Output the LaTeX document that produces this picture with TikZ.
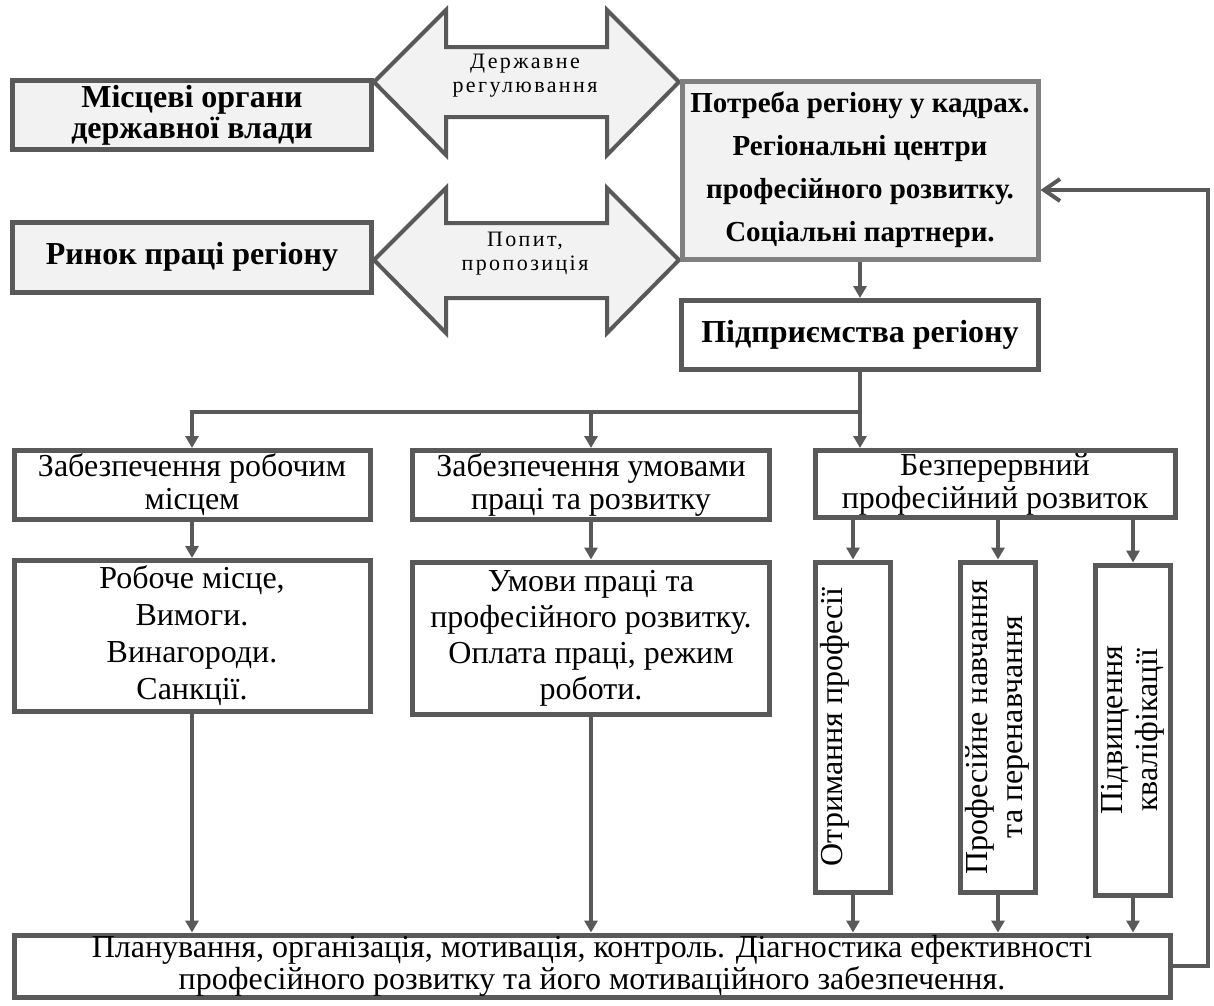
\documentclass[tikz,border=0pt]{standalone}
\usepackage{fontspec}
\setmainfont{Liberation Serif}
\usetikzlibrary{positioning, calc, arrows.meta}

\definecolor{linegray}{HTML}{595959}
\definecolor{softgray}{HTML}{808080}
\definecolor{boxfill}{HTML}{F2F2F2}

\begin{document}
\begin{tikzpicture}[x=1pt, y=-1pt,
    box/.style={draw=linegray, line width=5pt, fill=white, align=center, inner sep=0pt,
        font=\fontsize{32}{33}\selectfont},
    greybox/.style={box, fill=boxfill, font=\bfseries\fontsize{32}{31}\selectfont},
    vbox/.style={box, minimum width=75pt, minimum height=330pt, font=\fontsize{32}{35}\selectfont},
    conn/.style={draw=linegray, line width=4pt, -{Triangle[length=12pt,width=13pt]}},
    wire/.style={draw=linegray, line width=4pt},
    backarr/.style={draw=linegray, line width=4pt, -{Straight Barb[length=16pt,width=22pt]}},
    dbl/.style={draw=linegray, line width=4pt, fill=boxfill, line join=miter},
    arrtext/.style={align=center, inner sep=0pt,
        font=\fontsize{22}{24}\selectfont\addfontfeature{LetterSpace=11}}]
    \useasboundingbox (0,0) rectangle (1214,1005);

    % double arrows
    \draw[dbl] (374,82) -- (446,10) -- (446,47) -- (607,47) -- (607,10) -- (679,82)
        -- (607,155) -- (607,117) -- (446,117) -- (446,155) -- cycle;
    \draw[dbl] (374,260) -- (446,188) -- (446,223) -- (607,223) -- (607,188) -- (679,260)
        -- (607,333) -- (607,298) -- (446,298) -- (446,333) -- cycle;
    \node[arrtext] (regul) at (525,76) {Державне\\регулювання};
    \node[arrtext] (popyt) at (525,254) {Попит,\\пропозиція};

    % top boxes
    \node[greybox, minimum width=359pt, minimum height=69pt] (mistsevi) at (192,115) {Місцеві органи\\державної влади};
    \node[greybox, minimum width=359pt, minimum height=70pt] (rynok) at (192,257) {Ринок праці регіону};
    \node[greybox, draw=softgray, minimum width=356pt, minimum height=178pt,
        font=\bfseries\fontsize{29}{43}\selectfont] (potreba) at (860,170)
        {Потреба регіону у кадрах.\\Регіональні центри\\професійного розвитку.\\Соціальні партнери.};
    \node[box, minimum width=357pt, minimum height=69pt, font=\bfseries\fontsize{32}{33}\selectfont]
        (pidpr) at (860,335) {\raisebox{8pt}{Підприємства регіону}};

    % second row
    \node[box, minimum width=356pt, minimum height=69pt] (zab1) at (192,485) {Забезпечення робочим\\місцем};
    \node[box, minimum width=357pt, minimum height=69pt] (zab2) at (591,485) {Забезпечення умовами\\праці та розвитку};
    \node[box, minimum width=360pt, minimum height=67pt] (bezp) at (995,484) {Безперервний\\професійний розвиток};

    % third row
    \node[box, minimum width=356pt, minimum height=151pt, font=\fontsize{32}{37}\selectfont]
        (robmisce) at (192,636) {Робоче місце,\\Вимоги.\\Винагороди.\\Санкції.};
    \node[box, minimum width=357pt, minimum height=152pt, font=\fontsize{32}{36}\selectfont]
        (umovy) at (591,638) {Умови праці та\\професійного розвитку.\\Оплата праці, режим\\роботи.};
    \node[vbox] (otr) at (853,727) {\rotatebox{90}{\begin{tabular}{@{}c@{}}Отримання професії\\ \mbox{}\end{tabular}}};
    \node[vbox] (prof) at (998,727) {\rotatebox{90}{\begin{tabular}{@{}c@{}}Професійне навчання\\та перенавчання\end{tabular}}};
    \node[vbox] (pidv) at (1133,730) {\rotatebox{90}{\begin{tabular}{@{}c@{}}Підвищення\\кваліфікації\end{tabular}}};

    % bottom box
    \node[box, minimum width=1156pt, minimum height=62pt, font=\fontsize{32}{32}\selectfont] (plan) at (592,966)
        {Планування, організація, мотивація, контроль. Діагностика ефективності\\професійного розвитку та його мотиваційного забезпечення.};

    % connectors
    \coordinate (hub) at (860,412);
    \coordinate (fbcorner) at (1208,190);
    \draw[conn] (potreba.south) -- (pidpr.north);
    \draw[wire] (pidpr.south) -- (hub);
    \draw[conn] (hub) -| (zab1.north);
    \draw[conn] (zab2.north |- hub) -- (zab2.north);
    \draw[conn] (hub) -- (hub |- bezp.north);
    \draw[conn] (zab1.south) -- (robmisce.north);
    \draw[conn] (zab2.south) -- (umovy.north);
    \draw[conn] (robmisce.south) -- (robmisce.south |- plan.north);
    \draw[conn] (umovy.south) -- (umovy.south |- plan.north);
    \draw[conn] (otr.north |- bezp.south) -- (otr.north);
    \draw[conn] (prof.north |- bezp.south) -- (prof.north);
    \draw[conn] (pidv.north |- bezp.south) -- (pidv.north);
    \draw[conn] (otr.south) -- (otr.south |- plan.north);
    \draw[conn] (prof.south) -- (prof.south |- plan.north);
    \draw[conn] (pidv.south) -- (pidv.south |- plan.north);
    \draw[backarr] (plan.east) -| (fbcorner) -- (potreba.east |- fbcorner);
\end{tikzpicture}
\end{document}
